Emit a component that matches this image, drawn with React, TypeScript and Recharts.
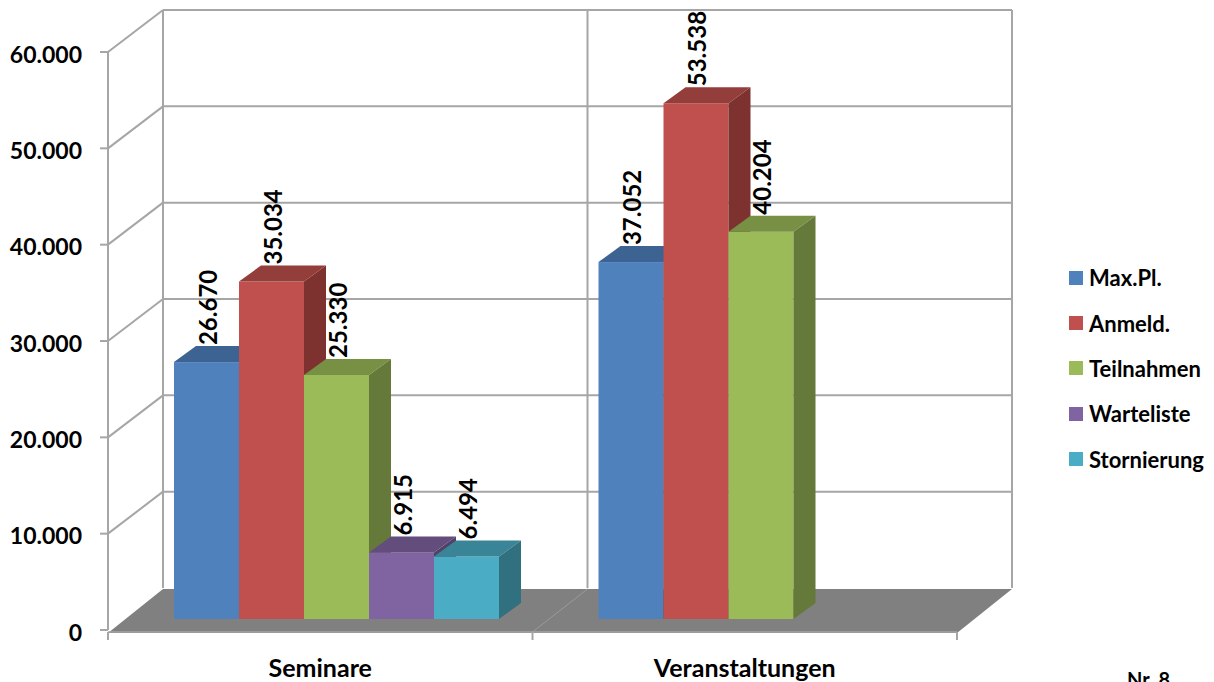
import { Bar, BarChart, CartesianGrid, LabelList, Legend, XAxis, YAxis } from "recharts";

const categories = ["Seminare", "Veranstaltungen"];
const maxPlaetze = [26670, 37052];
const anmeldungen = [35034, 53538];
const teilnahmen = [25330, 40204];
const warteliste = [6915, null];
const stornierungen = [6494, null];
const yTicks = [0, 10000, 20000, 30000, 40000, 50000, 60000];

const data = categories.map((name, i) => ({
  name,
  maxPl: maxPlaetze[i],
  anmeld: anmeldungen[i],
  teiln: teilnahmen[i],
  warte: warteliste[i],
  storno: stornierungen[i],
}));

const series = [
  { key: "maxPl", name: "Max.Pl.", front: "#4F81BD", top: "#3D6392", side: "#335379" },
  { key: "anmeld", name: "Anmeld.", front: "#C0504D", top: "#943E3B", side: "#7D3230" },
  { key: "teiln", name: "Teilnahmen", front: "#9BBB59", top: "#779044", side: "#65793A" },
  { key: "warte", name: "Warteliste", front: "#8064A2", top: "#634D7D", side: "#524068" },
  { key: "storno", name: "Stornierung", front: "#4BACC6", top: "#3A8498", side: "#31707F" },
];

const W = 1214;
const H = 682;
// the axes keep 1px each (a zero-sized axis is not drawn at all)
const MARGIN = { top: 41, right: 240, bottom: 62, left: 124 };
const PLOT_TOP = MARGIN.top;
const PLOT_BOTTOM = H - MARGIN.bottom - 1;
// oblique 3D box: the front plane sits left/below the bar plane, the back wall further right/up
const FRONT = { dx: -17, dy: 11 };
const DEPTH = { dx: 55, dy: -42 };
const BAR_DEPTH = { dx: 22, dy: -16 };

const FONT = "Lato, 'Open Sans', sans-serif";
const GRID = "#A6A6A6";

const formatDe = (v: number) => Math.round(v).toString().replace(/\B(?=(\d{3})+(?!\d))/g, ".");

// each horizontal grid line becomes a back-wall line plus a diagonal on the side wall;
// the zero line also carries the floor and the frame of the box
function WallLine(props: any) {
  const { x1, x2, y1 } = props;
  const fx1 = x1 + FRONT.dx;
  const fx2 = x2 + FRONT.dx;
  const fy = y1 + FRONT.dy;
  const bx1 = fx1 + DEPTH.dx;
  const bx2 = fx2 + DEPTH.dx;
  const by = fy + DEPTH.dy;

  if (Math.abs(y1 - PLOT_BOTTOM) > 0.5) {
    return (
      <g key={`wall-${y1}`}>
        <line x1={bx1} y1={by} x2={bx2} y2={by} stroke={GRID} strokeWidth={2} />
        <line x1={fx1} y1={fy} x2={bx1} y2={by} stroke={GRID} strokeWidth={2} />
        <line x1={fx1 - 8} y1={fy} x2={fx1} y2={fy} stroke={GRID} strokeWidth={2} />
      </g>
    );
  }

  const n = categories.length;
  const step = (fx2 - fx1) / n;
  const dividers = Array.from({ length: n + 1 }, (_, i) => fx1 + i * step);
  const backTop = PLOT_TOP + FRONT.dy + DEPTH.dy;
  const frontTop = PLOT_TOP + FRONT.dy;

  return (
    <g key={`wall-${y1}`}>
      {dividers.map((x) => (
        <line key={`bv-${x}`} x1={x + DEPTH.dx} y1={backTop} x2={x + DEPTH.dx} y2={by} stroke={GRID} strokeWidth={2} />
      ))}
      <line x1={fx1} y1={frontTop} x2={fx1} y2={fy} stroke={GRID} strokeWidth={2} />
      <polygon points={`${fx1},${fy + 3} ${fx2},${fy + 3} ${bx2},${by + 1} ${bx1},${by + 1}`} fill="#808080" />
      {dividers.slice(1, -1).map((x) => (
        <line key={`fd-${x}`} x1={x} y1={fy + 2} x2={x + DEPTH.dx} y2={by + 1} stroke="#9A9A9A" strokeWidth={1} />
      ))}
      <line x1={fx1 - 8} y1={fy} x2={fx1} y2={fy} stroke={GRID} strokeWidth={2} />
      <line x1={fx1} y1={fy + 2} x2={fx2} y2={fy + 2} stroke={GRID} strokeWidth={1.5} />
      {dividers.map((x) => (
        <line key={`ft-${x}`} x1={x} y1={fy + 2} x2={x} y2={fy + 10} stroke={GRID} strokeWidth={2} />
      ))}
    </g>
  );
}

function makeBox(s: (typeof series)[number]) {
  return (props: any) => {
    const { x, y, width, height } = props;
    if (!height || height <= 0) return null;
    const { dx, dy } = BAR_DEPTH;
    return (
      <g>
        <rect x={x} y={y} width={width} height={height} fill={s.front} />
        <polygon points={`${x},${y} ${x + width},${y} ${x + width + dx},${y + dy} ${x + dx},${y + dy}`} fill={s.top} />
        <polygon
          points={`${x + width},${y} ${x + width + dx},${y + dy} ${x + width + dx},${y + height + dy} ${x + width},${y + height}`}
          fill={s.side}
        />
      </g>
    );
  };
}

function ValueLabel(props: any) {
  const { value } = props;
  if (value == null) return null;
  const box = props.viewBox ?? props;
  const cx = box.x + box.width / 2 + 1;
  const by = box.y + BAR_DEPTH.dy - 1;
  return (
    <text
      x={cx}
      y={by}
      transform={`rotate(-90 ${cx} ${by})`}
      textAnchor="start"
      dominantBaseline="central"
      fontFamily={FONT}
      fontWeight={700}
      fontSize={24}
      fill="#000"
    >
      {formatDe(value)}
    </text>
  );
}

function YTick(props: any) {
  const { x, y, payload } = props;
  return (
    <text x={x + FRONT.dx - 26} y={y + FRONT.dy + 10.5} textAnchor="end" fontFamily={FONT} fontWeight={700} fontSize={23} fill="#000">
      {formatDe(payload.value)}
    </text>
  );
}

function XTick(props: any) {
  const { x, y, payload } = props;
  return (
    <text x={x + FRONT.dx} y={y + 58} textAnchor="middle" fontFamily={FONT} fontWeight={700} fontSize={25} fill="#000">
      {payload.value}
    </text>
  );
}

function LegendBox() {
  return (
    <div style={{ fontFamily: FONT, fontWeight: 700, fontSize: 22, color: "#000" }}>
      {series.map((s) => (
        <div key={s.key} style={{ display: "flex", alignItems: "center", height: 45.4 }}>
          <span style={{ display: "inline-block", width: 14, height: 14, background: s.front, marginRight: 6 }} />
          <span>{s.name}</span>
        </div>
      ))}
    </div>
  );
}

export default function App() {
  return (
    <div style={{ position: "absolute", left: 0, top: 0, width: W, height: H, overflow: "hidden", background: "#fff" }}>
      <BarChart width={W} height={H} data={data} margin={MARGIN} barCategoryGap={49} barGap={0}>
        <CartesianGrid vertical={false} horizontal={WallLine} />
        <XAxis dataKey="name" height={1} axisLine={false} tickLine={false} tickSize={0} tickMargin={0} tick={XTick} interval={0} />
        <YAxis
          width={1}
          domain={[0, 60000]}
          ticks={yTicks}
          axisLine={false}
          tickLine={false}
          tickSize={0}
          tickMargin={0}
          tick={YTick}
          interval={0}
        />
        {series.map((s) => (
          <Bar key={s.key} dataKey={s.key} name={s.name} fill={s.front} shape={makeBox(s)} isAnimationActive={false}>
            <LabelList dataKey={s.key} content={ValueLabel} />
          </Bar>
        ))}
        <Legend
          layout="vertical"
          align="center"
          verticalAlign="middle"
          wrapperStyle={{ left: 1069, top: 255, width: 145 }}
          content={LegendBox}
        />
      </BarChart>
      <div
        style={{
          position: "absolute",
          left: 1127,
          top: 667,
          fontFamily: FONT,
          fontWeight: 700,
          fontSize: 20,
          lineHeight: "24px",
          whiteSpace: "nowrap",
        }}
      >
        Nr. 8
      </div>
    </div>
  );
}
